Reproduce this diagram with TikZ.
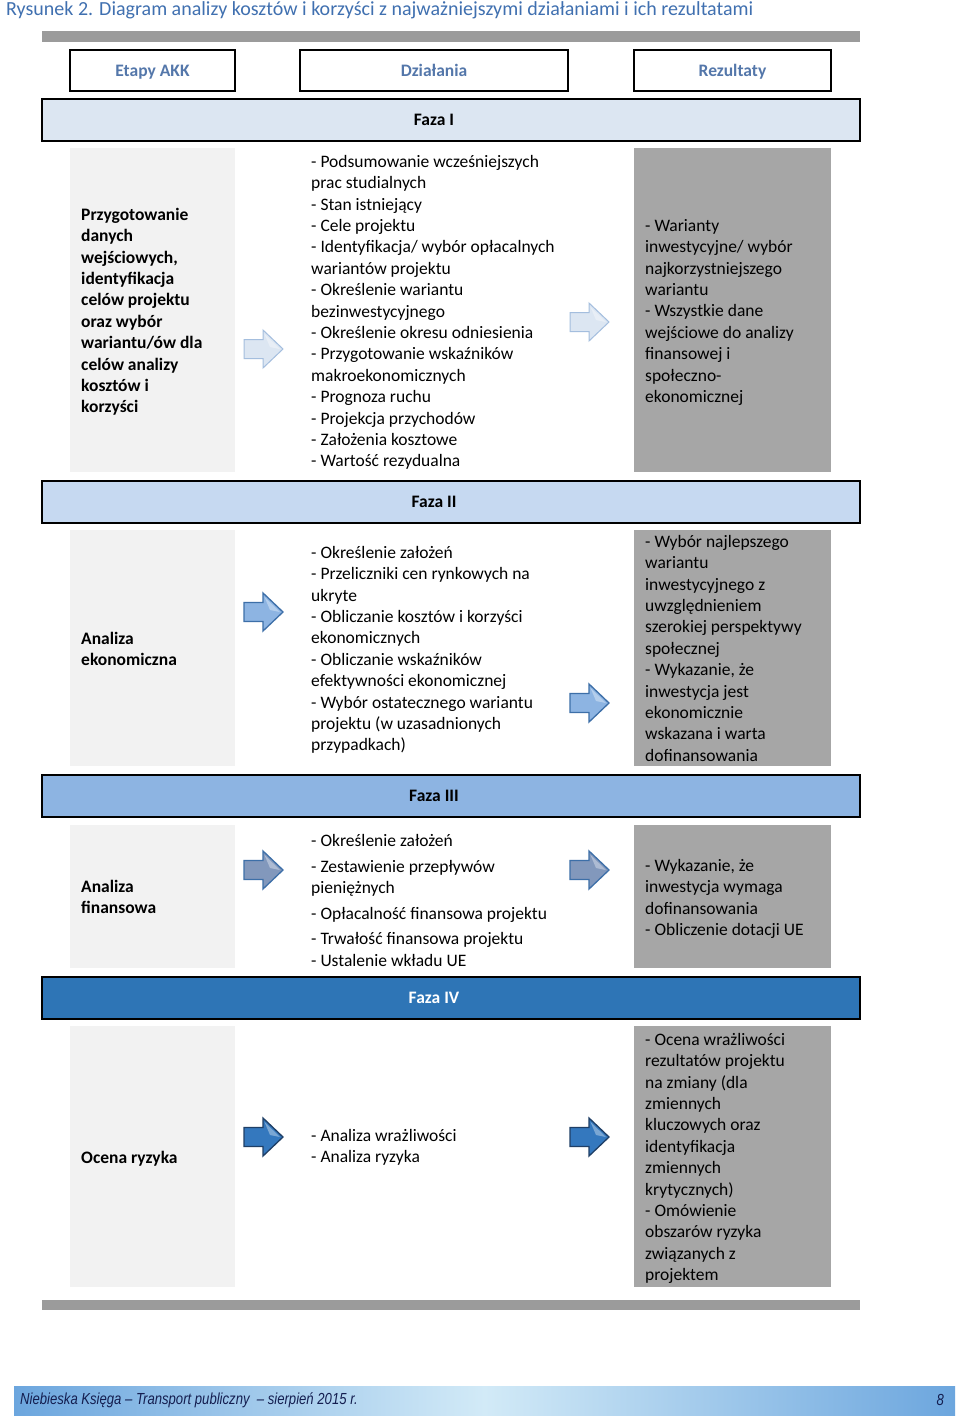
\documentclass[tikz,border=0pt]{standalone}
\usepackage{fontspec}
\setmainfont{Carlito}
\newfontfamily\footfont{Liberation Sans}
\usetikzlibrary{calc}
\definecolor{titleblue}{RGB}{64,112,176}
\definecolor{hdrblue}{RGB}{84,119,170}
\definecolor{barcol}{RGB}{155,155,155}
\definecolor{leftfill}{RGB}{242,242,242}
\definecolor{rightfill}{RGB}{166,166,166}
\definecolor{ph1}{RGB}{220,230,242}
\definecolor{ph2}{RGB}{198,217,241}
\definecolor{ph3}{RGB}{141,180,226}
\definecolor{ph4}{RGB}{46,117,182}
\definecolor{footL}{RGB}{108,166,222}
\definecolor{footM}{RGB}{210,234,247}
\definecolor{foottext}{RGB}{20,30,80}
\begin{document}
\begin{tikzpicture}[x=1pt,y=-1pt,
  hdr/.style={draw=black,line width=2pt,fill=white,minimum height=41pt,inner sep=0,
    text height=11.5pt,text depth=0pt,
    font=\fontsize{17.5}{21.4}\selectfont\bfseries,text=hdrblue},
  phasebar/.style={draw=black,line width=2.5pt,minimum width=818pt,minimum height=42pt,inner sep=0},
  phtext/.style={font=\fontsize{17.5}{21.4}\selectfont\bfseries,inner sep=0,text height=11.5pt,text depth=0pt},
  leftbox/.style={fill=leftfill},
  rightbox/.style={fill=rightfill},
  txt/.style={anchor=north west,inner sep=0,align=left,font=\fontsize{17.5}{21.4}\selectfont},
  btxt/.style={txt,font=\fontsize{17.5}{21.4}\selectfont\bfseries},
  arrA/.style={fill=ph1,draw={rgb,255:red,164;green,190;blue,222},line width=1pt},
  arrB/.style={fill={rgb,255:red,141;green,180;blue,226},draw={rgb,255:red,61;green,111;blue,168},line width=1.3pt},
  arrC/.style={fill={rgb,255:red,130;green,152;blue,188},draw={rgb,255:red,61;green,111;blue,168},line width=1.3pt},
  arrD/.style={fill={rgb,255:red,52;green,120;blue,190},draw={rgb,255:red,31;green,63;blue,102},line width=1.3pt},
  blockarr/.pic={
    \path[pic actions] (-19,-9.5) -- (0,-9.5) -- (0,-19) -- (20,0) -- (0,19) -- (0,9.5) -- (-19,9.5) -- cycle;
    \fill[white,opacity=0.35] (1.5,-15) -- (17,0) -- (7,-2) -- cycle;
  }
]
\useasboundingbox (0,0) rectangle (960,1422);
\fill[white] (0,0) rectangle (960,1422);

% title
\node[anchor=west,inner sep=0,text=titleblue,font=\fontsize{20}{24}\selectfont] (title) at (6,10)
  {Rysunek 2. Diagram analizy kosztów i korzyści z najważniejszymi działaniami i ich rezultatami};

% top gray bar
\fill[barcol] (42,31) rectangle (860,42);

% headers
\node[hdr,minimum width=165pt] (h1) at (152.5,70.5) {Etapy AKK};
\node[hdr,minimum width=268pt] (h2) at (434,70.5) {Działania};
\node[hdr,minimum width=197pt] (h3) at (732.5,70.5) {Rezultaty};

% ---------- Faza I ----------
\node[phasebar,fill=ph1] (f1) at (451,120) {};
\node[phtext] (f1t) at (434,120) {Faza I};
\fill[leftbox] (70,148) rectangle (235,472);
\fill[rightbox] (634,148) rectangle (831,472);
\node[btxt] (l1) at (81,207) {\rule{0pt}{13pt}Przygotowanie\\danych\\wejściowych,\\identyfikacja\\celów projektu\\oraz wybór\\wariantu/ów dla\\celów analizy\\kosztów i\\korzyści};
\node[txt] (m1) at (311,154) {\rule{0pt}{13pt}- Podsumowanie wcześniejszych\\prac studialnych\\- Stan istniejący\\- Cele projektu\\- Identyfikacja/ wybór opłacalnych\\wariantów projektu\\- Określenie wariantu\\bezinwestycyjnego\\- Określenie okresu odniesienia\\- Przygotowanie wskaźników\\makroekonomicznych\\- Prognoza ruchu\\- Projekcja przychodów\\- Założenia kosztowe\\- Wartość rezydualna};
\node[txt] (r1) at (645,218) {\rule{0pt}{13pt}- Warianty\\inwestycyjne/ wybór\\najkorzystniejszego\\wariantu\\- Wszystkie dane\\wejściowe do analizy\\finansowej i\\społeczno-\\ekonomicznej};
\pic[arrA] at (263,349) {blockarr};
\pic[arrA] at (589,322) {blockarr};

% ---------- Faza II ----------
\node[phasebar,fill=ph2] (f2) at (451,502) {};
\node[phtext] (f2t) at (434,502) {Faza II};
\fill[leftbox] (70,530) rectangle (235,766);
\fill[rightbox] (634,530) rectangle (831,766);
\node[btxt] (l2) at (81,631) {\rule{0pt}{13pt}Analiza\\ekonomiczna};
\node[txt] (m2) at (311,545) {\rule{0pt}{13pt}- Określenie założeń\\- Przeliczniki cen rynkowych na\\ukryte\\- Obliczanie kosztów i korzyści\\ekonomicznych\\- Obliczanie wskaźników\\efektywności ekonomicznej\\- Wybór ostatecznego wariantu\\projektu (w uzasadnionych\\przypadkach)};
\node[txt] (r2) at (645,534) {\rule{0pt}{13pt}- Wybór najlepszego\\wariantu\\inwestycyjnego z\\uwzględnieniem\\szerokiej perspektywy\\społecznej\\- Wykazanie, że\\inwestycja jest\\ekonomicznie\\wskazana i warta\\dofinansowania};
\pic[arrB] at (263,612) {blockarr};
\pic[arrB] at (589,703) {blockarr};

% ---------- Faza III ----------
\node[phasebar,fill=ph3] (f3) at (451,796) {};
\node[phtext] (f3t) at (434,796) {Faza III};
\fill[leftbox] (70,825) rectangle (235,968);
\fill[rightbox] (634,825) rectangle (831,968);
\node[btxt] (l3) at (81,879) {\rule{0pt}{13pt}Analiza\\finansowa};
\node[txt] (m3) at (311,833) {\rule{0pt}{13pt}- Określenie założeń\\[4.5pt]- Zestawienie przepływów\\pieniężnych\\[4.5pt]- Opłacalność finansowa projektu\\[4pt]- Trwałość finansowa projektu\\- Ustalenie wkładu UE};
\node[txt] (r3) at (645,858) {\rule{0pt}{13pt}- Wykazanie, że\\inwestycja wymaga\\dofinansowania\\- Obliczenie dotacji UE};
\pic[arrC] at (263,870) {blockarr};
\pic[arrC] at (589,870) {blockarr};

% ---------- Faza IV ----------
\node[phasebar,fill=ph4] (f4) at (451,998) {};
\node[phtext,text=white] (f4t) at (434,998) {Faza IV};
\fill[leftbox] (70,1026) rectangle (235,1287);
\fill[rightbox] (634,1026) rectangle (831,1287);
\node[btxt] (l4) at (81,1150) {\rule{0pt}{13pt}Ocena ryzyka};
\node[txt] (m4) at (311,1128) {\rule{0pt}{13pt}- Analiza wrażliwości\\- Analiza ryzyka};
\node[txt] (r4) at (645,1032) {\rule{0pt}{13pt}- Ocena wrażliwości\\rezultatów projektu\\na zmiany (dla\\zmiennych\\kluczowych oraz\\identyfikacja\\zmiennych\\krytycznych)\\- Omówienie\\obszarów ryzyka\\związanych z\\projektem};
\pic[arrD] at (263,1137) {blockarr};
\pic[arrD] at (589,1137) {blockarr};

% bottom gray bar
\fill[barcol] (42,1300) rectangle (860,1310);

% footer
\shade[left color=footL,right color=footL,middle color=footM] (14,1386) rectangle (955,1415);
\node[anchor=west,inner sep=0,text=foottext] (foot) at (20,1400)
  {\scalebox{0.82}[1]{\footfont\itshape\fontsize{16}{18}\selectfont Niebieska Księga – Transport publiczny \ – sierpień 2015 r.}};
\node[anchor=east,inner sep=0,text=foottext] (pg) at (944,1400)
  {\scalebox{0.82}[1]{\footfont\itshape\fontsize{16}{18}\selectfont 8}};
\end{tikzpicture}
\end{document}
